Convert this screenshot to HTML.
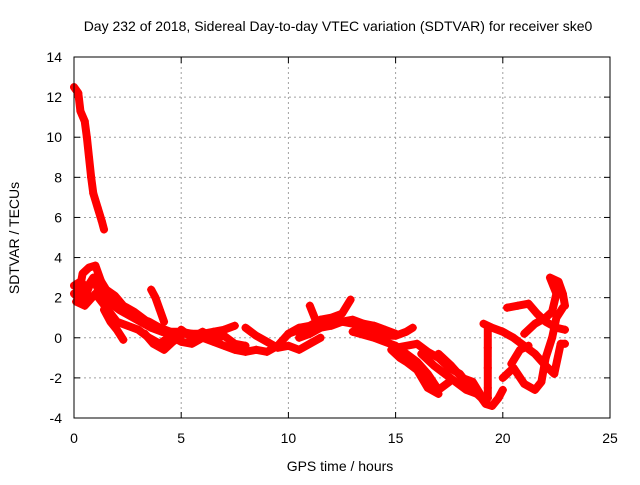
<!DOCTYPE html>
<html><head><meta charset="utf-8"><style>
body{margin:0;background:#fff;width:640px;height:480px;overflow:hidden}
svg text{font-family:"Liberation Sans",sans-serif;font-size:14px;fill:#000}
</style></head><body>
<svg id="chart" width="640" height="480">
<text x="338" y="31" text-anchor="middle">Day 232 of 2018, Sidereal Day-to-day VTEC variation (SDTVAR) for receiver ske0</text>
<text x="340" y="471" text-anchor="middle">GPS time / hours</text>
<text transform="translate(19,238) rotate(-90)" text-anchor="middle">SDTVAR / TECUs</text>
<g id="grid"></g><g id="ticks"></g><g id="marks"></g>
<rect x="74" y="57" width="536" height="361" fill="none" stroke="#000" stroke-width="1"/>
</svg>
<script>
const xTicks=[0,5,10,15,20,25];
const yTicks=[-4,-2,0,2,4,6,8,10,12,14];
const t1=[[0,12.5],[0.2,12.2],[0.3,11.3],[0.5,10.8],[0.6,10],[0.7,9],[0.8,8],[0.9,7.2],[1.1,6.5],[1.3,5.8],[1.4,5.4]];
const t2=[[0,2.2],[0.2,2.0],[0.4,3.2],[0.7,3.5],[1.0,3.6],[1.3,2.7],[1.6,2.0],[2.0,1.8],[2.5,1.4],[3.0,1.0],[3.5,0.8],[4,0.5],[4.5,0.3],[5,0.3],[5.5,0.2],[6,0.2],[6.5,0.3],[7,0.4],[7.5,0.6]];
const t3=[[0.1,1.8],[0.5,1.6],[1,2.2],[1.5,1.5],[2,0.8],[2.5,0.6],[3,0.4],[3.5,0],[4,-0.3],[4.5,0.1],[5,-0.2],[5.5,-0.3],[6,0],[6.5,-0.2],[7,-0.4],[7.5,-0.6],[8,-0.7],[8.5,-0.6],[9,-0.7],[9.5,-0.4],[10,0.2],[10.5,0.4],[11,0.5]];
const t3b=[[0,2.6],[0.3,2.8],[0.6,2.5],[0.9,3.0],[1.2,2.2],[1.6,1.8],[2.1,1.4],[2.6,1.1],[3.1,0.8],[3.6,0.5],[4.1,0.3],[4.6,0.2]];
const t3c=[[0.2,2.4],[0.5,2.0],[0.8,2.8],[1.1,3.1],[1.5,2.4],[1.9,2.1],[2.3,1.6],[2.8,1.3],[3.3,0.9]];
const t4=[[1.4,1.4],[1.7,0.8],[2.0,0.4],[2.3,-0.1]];
const t5=[[3.6,2.4],[3.8,2.0],[4.0,1.4],[4.2,0.8]];
const t6=[[3.3,0.2],[3.7,-0.3],[4.2,-0.6],[4.6,-0.2],[5,0.1]];
const t6b=[[5,0.4],[5.5,0],[6,0.3],[6.5,-0.1],[7,0.1],[7.5,-0.3],[8,-0.4]];
const t7=[[8,0.5],[8.5,0.1],[9,-0.2],[9.5,-0.5],[10,-0.4],[10.5,-0.6],[11,-0.3],[11.5,0]];
const tA=[[10,0.2],[10.5,0.5],[11,0.6],[11.5,0.9],[12,1.0],[12.5,1.2],[12.9,1.9]];
const tB=[[11,1.6],[11.3,0.8],[12,0.9],[13,0.7],[14,0.4],[14.5,0.1],[15,0.1],[15.5,0.3],[15.8,0.5]];
const tB2=[[10.5,0],[11,0.2],[11.5,0.5],[12,0.6],[12.5,0.8],[13,0.9],[13.5,0.7],[14,0.6],[14.5,0.4],[15,0.2]];
const tC=[[13,0.3],[14,0],[15,-0.4],[16,-1.2],[16.5,-1.8],[17,-2.6],[17.5,-2.2]];
const tD=[[14.8,-0.6],[15.2,-1.0],[15.5,-1.2],[16,-1.6],[16.5,-2.5],[17,-2.8]];
const tE=[[15,-0.5],[16,-0.3],[16.5,-0.7],[17,-1.0],[17.5,-1.5],[18,-1.8],[18.5,-2.5],[19,-3.0],[19.2,-3.3],[19.5,-3.4],[19.8,-3.0],[20,-2.6]];
const tF=[[17,-0.8],[17.6,-1.4],[18.1,-2.0],[18.6,-2.2],[19,-2.9],[19.3,-3.0]];
const tF2=[[16.2,-0.8],[16.8,-1.4],[17.3,-1.8],[17.8,-2.2],[18.3,-2.6],[18.8,-2.8]];
const tG=[[19.1,0.7],[19.5,0.5],[20,0.3],[20.5,0],[21,-0.4],[21.5,-0.8],[22,-1.4],[22.4,-1.8],[22.7,-0.3],[22.9,-0.3]];
const tV=[[19.3,0.5],[19.3,-0.5],[19.3,-1.5],[19.3,-2.5],[19.3,-3.0]];
const tH=[[20,-2.0],[20.5,-1.5],[21,-2.3],[21.5,-2.6],[21.8,-2.2],[22,-1.0],[22.3,0],[22.5,1.0],[22.8,1.5]];
const tI=[[20.2,1.5],[20.7,1.6],[21.2,1.7],[21.6,1.2],[22,0.8],[22.5,0.5],[22.9,0.4]];
const tJ=[[21,0.2],[21.5,0.7],[22,1.0],[22.3,1.3],[22.5,2.2],[22.2,3.0],[22.6,2.8],[22.8,2.2],[22.9,1.6]];
const tK=[[20.4,-1.3],[20.8,-0.6],[21.2,-0.4]];
const tracks=[t1,t2,t3,t3b,t3c,t4,t5,t6,t6b,t7,tA,tB,tB2,tC,tD,tE,tF,tF2,tG,tV,tH,tI,tJ,tK];
const NS='http://www.w3.org/2000/svg';
const X0=74,X1=610,Y0=418,Y1=57;
const xs=v=>X0+(v-0)/25*(X1-X0);
const ys=v=>Y0-(v+4)/18*(Y0-Y1);
function mk(t,a,p){const e=document.createElementNS(NS,t);for(const k in a)e.setAttribute(k,a[k]);p.appendChild(e);return e;}
const grid=document.getElementById('grid'),ticks=document.getElementById('ticks'),marks=document.getElementById('marks');
xTicks.forEach(v=>{const x=xs(v);
 if(v>0&&v<25){const g=mk('line',{x1:x,x2:x,y1:Y1,y2:Y0,stroke:'#a0a0a0','stroke-dasharray':'2,3'},grid);
 
 }
 mk('line',{x1:x,x2:x,y1:Y0,y2:Y0-6,stroke:'#000'},ticks);
 mk('line',{x1:x,x2:x,y1:Y1,y2:Y1+6,stroke:'#000'},ticks);
 const t=mk('text',{x:x,y:443,'text-anchor':'middle'},ticks);t.textContent=v;
 
 });
yTicks.forEach(v=>{const y=ys(v);
 if(v>-4&&v<14){const g=mk('line',{x1:X0,x2:X1,y1:y,y2:y,stroke:'#a0a0a0','stroke-dasharray':'2,3'},grid);
 
 }
 mk('line',{x1:X0,x2:X0+6,y1:y,y2:y,stroke:'#000'},ticks);
 mk('line',{x1:X1,x2:X1-6,y1:y,y2:y,stroke:'#000'},ticks);
 const t=mk('text',{x:62,y:y+5,'text-anchor':'end'},ticks);t.textContent=v;
 
 });
tracks.forEach(tr=>{
 const pts=tr.map(p=>xs(p[0])+','+ys(p[1])).join(' ');
 const pl=mk('polyline',{points:pts,fill:'none',stroke:'#ff0000','stroke-width':8,'stroke-linejoin':'round','stroke-linecap':'round'},marks);
 
 
 tr.forEach(p=>{const x=xs(p[0]),y=ys(p[1]);
  const m=mk('path',{d:`M${x-4},${y}H${x+4}M${x},${y-4}V${y+4}`,stroke:'#ff0000','stroke-width':1.5},marks);
  
  });
});
</script>
</body></html>
